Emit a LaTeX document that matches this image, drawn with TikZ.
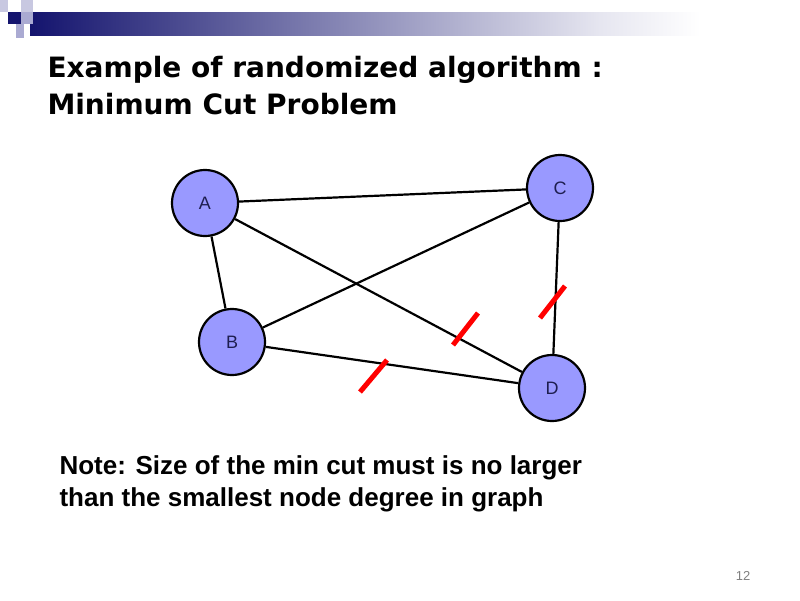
\documentclass[tikz,border=0pt]{standalone}
\usepackage{fontspec}
\setmainfont{DejaVu Sans}
\newfontfamily\arialf{Liberation Sans}
\definecolor{navy}{RGB}{20,20,110}
\definecolor{lav}{RGB}{200,200,225}
\definecolor{lav2}{RGB}{170,170,210}
\definecolor{nodefill}{RGB}{153,153,255}
\definecolor{nodetext}{RGB}{30,30,80}
\definecolor{pale}{RGB}{230,230,240}
\begin{document}
\begin{tikzpicture}[x=1pt,y=-1pt,
  vert/.style={circle,draw=black,line width=2.2pt,fill=nodefill,minimum size=66pt,inner sep=0pt,font=\arialf\fontsize{18}{18}\selectfont,text=nodetext},
  edge/.style={line width=2.2pt},
  cut/.style={red,line width=5pt}]
\useasboundingbox[fill=white] (0,0) rectangle (800,600);
\shade[left color=navy,right color=pale] (30,12) rectangle (600,35);
\shade[left color=pale,right color=white] (600,12) rectangle (700,35);
\fill[navy] (8,12) rectangle (21,24);
\fill[lav] (21,0) rectangle (33,12);
\fill[lav] (0,0) rectangle (8,12);
\fill[lav2] (21,12) rectangle (33,24);
\fill[lav2] (16,24) rectangle (24,38);
\node[anchor=west,font=\bfseries\fontsize{28}{37}\selectfont,align=left] (title) at (44,86) {Example of randomized algorithm :\\Minimum Cut Problem};
\node[vert] (A) at (205,203) {A};
\node[vert] (C) at (560,188) {C};
\node[vert] (B) at (232,342) {B};
\node[vert] (D) at (552,388) {D};
\draw[edge] (A) -- (C);
\draw[edge] (A) -- (B);
\draw[edge] (A) -- (D);
\draw[edge] (B) -- (C);
\draw[edge] (B) -- (D);
\draw[edge] (C) -- (D);
\coordinate (c1a) at (360,392); \coordinate (c1b) at (387,360);
\coordinate (c2a) at (453,345); \coordinate (c2b) at (478,313);
\coordinate (c3a) at (540,318); \coordinate (c3b) at (565,286);
\draw[cut] (c1a) -- (c1b);
\draw[cut] (c2a) -- (c2b);
\draw[cut] (c3a) -- (c3b);
\node[anchor=west,font=\arialf\bfseries\fontsize{26}{32}\selectfont,align=left] (note) at (56,484) {Note: Size of the min cut must is no larger\\than the smallest node degree in graph};
\node[font=\arialf\fontsize{13}{13}\selectfont,text=gray] (num) at (743,576) {12};
\end{tikzpicture}
\end{document}
